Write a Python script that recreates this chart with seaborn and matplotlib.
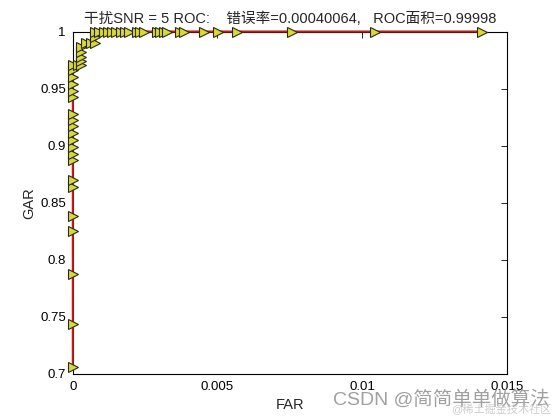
import matplotlib
matplotlib.use("Agg")
import matplotlib.pyplot as plt
import seaborn as sns
import pandas as pd

# ROC points (FAR, GAR)
far = [0, 0, 0, 0, 0, 0, 0,
       0, 0, 0, 0, 0, 0, 0, 0,
       0, 0, 0, 0, 0, 0,
       0.00017, 0.00028,
       0.00028, 0.00028, 0.00028, 0.00028,
       0.00046, 0.00063, 0.00078,
       0.00078, 0.00078,
       0.00092, 0.00107, 0.00122, 0.00136, 0.00151, 0.00166, 0.00180, 0.00195,
       0.00222, 0.00232, 0.00246, 0.00291, 0.00301, 0.00315, 0.00325,
       0.00370, 0.00384, 0.00453, 0.00502, 0.00566, 0.00758, 0.01046, 0.01415]
gar = [0.706, 0.744, 0.7875, 0.825, 0.838, 0.864, 0.870,
       0.887, 0.893, 0.899, 0.905, 0.911, 0.917, 0.922, 0.928,
       0.943, 0.948, 0.954, 0.960, 0.966, 0.971,
       0.971, 0.971,
       0.974, 0.978, 0.982, 0.986,
       0.990, 0.990, 0.990,
       0.995, 1.0,
       1.0, 1.0, 1.0, 1.0, 1.0, 1.0, 1.0, 1.0,
       1.0, 1.0, 1.0, 1.0, 1.0, 1.0, 1.0,
       1.0, 1.0, 1.0, 1.0, 1.0, 1.0, 1.0, 1.0]

x_ticks = [0, 0.005, 0.01, 0.015]
x_labels = ["0", "0.005", "0.01", "0.015"]
y_ticks = [0.7, 0.75, 0.8, 0.85, 0.9, 0.95, 1.0]
y_labels = ["0.7", "0.75", "0.8", "0.85", "0.9", "0.95", "1"]

title_text = "干扰SNR = 5 ROC:    错误率=0.00040064,   ROC面积=0.99998"

sns.set_style("white")
plt.rcParams["font.family"] = ["Liberation Sans", "Noto Sans CJK SC", "DejaVu Sans"]

df = pd.DataFrame({"FAR": far, "GAR": gar})

fig = plt.figure(figsize=(5.6, 4.2), dpi=100)
fig.patch.set_facecolor("white")
ax = fig.add_axes([0.13, 0.11, 0.775, 0.815])

sns.lineplot(data=df, x="FAR", y="GAR", sort=False, estimator=None, ax=ax,
             color="#c01e1c", linewidth=1.5, marker=">", markersize=7.5,
             markerfacecolor="#d8d838", markeredgecolor="#2a2a10",
             markeredgewidth=0.8, clip_on=False, zorder=3)

ax.set_xlim(0, 0.015)
ax.set_ylim(0.7, 1.0)
ax.set_xticks(x_ticks)
ax.set_xticklabels(x_labels)
ax.set_yticks(y_ticks)
ax.set_yticklabels(y_labels)
ax.tick_params(direction="in", length=4, width=0.6, top=True, right=True,
               labelsize=9.5, colors="black", pad=5)
for s in ax.spines.values():
    s.set_visible(True)
    s.set_color("black")
    s.set_linewidth(0.8)

ax.set_xlabel("FAR", fontsize=10.5, labelpad=4)
ax.set_ylabel("GAR", fontsize=10.5, labelpad=3)
ax.set_title(title_text, fontsize=10.5, pad=6)

fig.text(0.595, 0.048, "CSDN @简简单单做算法", fontsize=14, color="#909090",
         alpha=0.85, ha="left", va="center")
fig.text(0.805, 0.025, "@稀土掘金技术社区", fontsize=8, color="#c0c0c0",
         alpha=0.8, ha="left", va="center")

fig.savefig("out.png", dpi=100, facecolor="white")
